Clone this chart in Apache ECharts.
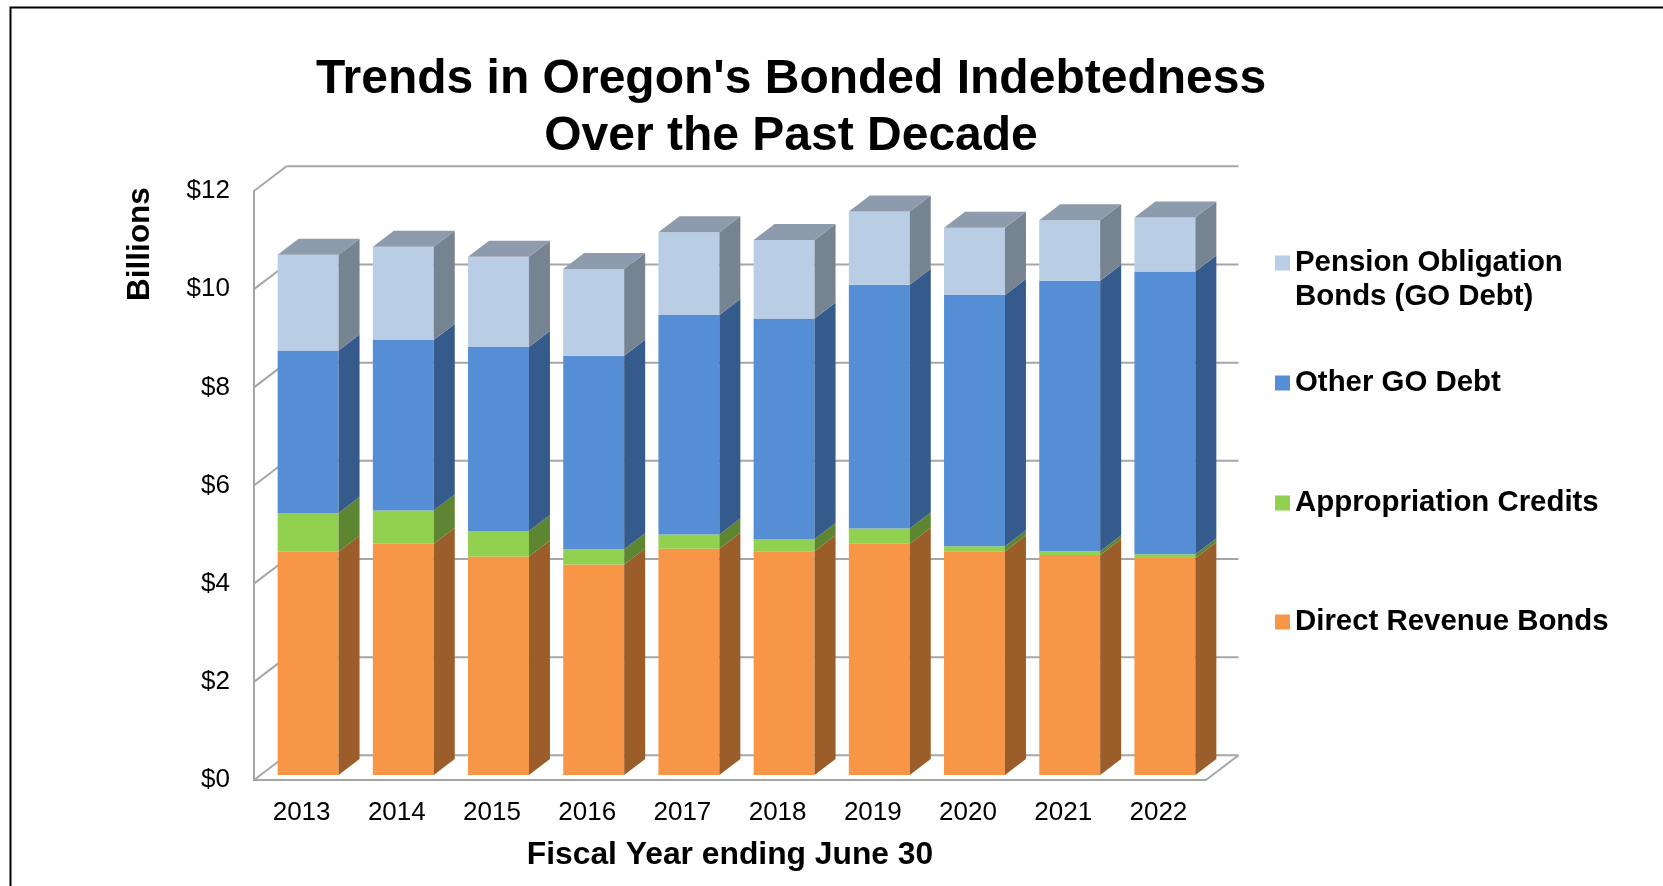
<!DOCTYPE html>
<html>
<head>
<meta charset="utf-8">
<script src="https://cdn.jsdelivr.net/npm/echarts@6/dist/echarts.min.js"></script>
<style>
html,body{margin:0;padding:0;background:#fff;}
#chart{width:1663px;height:886px;}
</style>
</head>
<body>
<div id="chart"></div>
<script>
// ---- Data (billions of dollars) ----
const years = ['2013','2014','2015','2016','2017','2018','2019','2020','2021','2022'];
const directRevenueBonds = [4.55, 4.71, 4.45, 4.29, 4.61, 4.56, 4.71, 4.56, 4.48, 4.42];
const appropriationCredits = [0.79, 0.68, 0.52, 0.31, 0.29, 0.25, 0.31, 0.10, 0.08, 0.08];
const otherGODebt = [3.31, 3.47, 3.75, 3.94, 4.47, 4.49, 4.97, 5.12, 5.51, 5.76];
const pensionObligationBonds = [1.95, 1.90, 1.84, 1.77, 1.69, 1.60, 1.49, 1.37, 1.23, 1.10];
const yTicks = [0, 2, 4, 6, 8, 10, 12];
const seriesNames = ['Direct Revenue Bonds', 'Appropriation Credits', 'Other GO Debt', 'Pension Obligation Bonds (GO Debt)'];

// ---- Styling ----
const FONT = 'Liberation Sans, Arial, Helvetica, sans-serif';
const palette = [
  {front:'#F79646', side:'#9B5E2B', top:'#C77A3A'},
  {front:'#92D050', side:'#5E8632', top:'#7AAE42'},
  {front:'#558ED5', side:'#345B8B', top:'#4470A8'},
  {front:'#B9CDE5', side:'#768492', top:'#8D9BAD'}
];
const GRID_COLOR = '#A6A6A6';
const WALL = [32.5, -24.7];     // depth of the chart box
const BAR_OFF = [6.5, -5];      // front-face offset of bars
const BAR_D = [21, -16];        // depth of each bar

const valueSets = [directRevenueBonds, appropriationCredits, otherGODebt, pensionObligationBonds];

function stackedData(k) {
  return years.map((y, i) => {
    let b = 0;
    for (let j = 0; j < k; j++) b += valueSets[j][i];
    return [i, b, b + valueSets[k][i]];
  });
}

function makeBarRender(k) {
  const c = palette[k];
  const isTop = k === valueSets.length - 1;
  return function (params, api) {
    const idx = api.value(0);
    const pb = api.coord([idx, api.value(1)]);
    const pt = api.coord([idx, api.value(2)]);
    const w = api.size([1, 0])[0] * 0.64;
    const cx = pb[0] + BAR_OFF[0];
    const xl = cx - w / 2, xr = cx + w / 2;
    const yb = pb[1] + BAR_OFF[1], yt = pt[1] + BAR_OFF[1];
    const children = [
      {type:'rect', shape:{x:xl, y:yt, width:w, height:yb - yt}, style:{fill:c.front}},
      {type:'polygon', shape:{points:[[xr, yt], [xr + BAR_D[0], yt + BAR_D[1]], [xr + BAR_D[0], yb + BAR_D[1]], [xr, yb]]}, style:{fill:c.side}}
    ];
    if (isTop) {
      children.push({type:'polygon', shape:{points:[[xl, yt], [xl + BAR_D[0], yt + BAR_D[1]], [xr + BAR_D[0], yt + BAR_D[1]], [xr, yt]]}, style:{fill:c.top}});
    }
    return {type:'group', children};
  };
}

function renderWall(params, api) {
  const cs = params.coordSys;
  const x0 = cs.x, x1 = cs.x + cs.width;
  const st = {stroke: GRID_COLOR, lineWidth: 2};
  const children = [];
  yTicks.forEach(v => {
    const y = api.coord([0, v])[1];
    children.push({type:'line', shape:{x1:x0, y1:y, x2:x0 + WALL[0], y2:y + WALL[1]}, style:st});
    children.push({type:'line', shape:{x1:x0 + WALL[0], y1:y + WALL[1], x2:x1 + WALL[0], y2:y + WALL[1]}, style:st});
  });
  const yb = api.coord([0, 0])[1];
  children.push({type:'line', shape:{x1:x1, y1:yb, x2:x1 + WALL[0], y2:yb + WALL[1]}, style:st});
  return {type:'group', children};
}

const series = [
  {type:'custom', name:'wall', renderItem: renderWall, data:[[0, 0, 0]], encode:{x:0, y:1}, silent:true, z:1}
];
valueSets.forEach((vals, k) => {
  series.push({
    type:'custom',
    name: seriesNames[k],
    renderItem: makeBarRender(k),
    itemStyle:{color: palette[k].front},
    encode:{x:0, y:[1, 2]},
    data: stackedData(k),
    z: 2
  });
});

const legendBase = {
  orient:'vertical', left:1275, padding:0, itemWidth:15, itemHeight:15, icon:'rect', selectedMode:false,
  textStyle:{fontFamily:FONT, fontSize:29.4, fontWeight:'bold', color:'#000', lineHeight:34}
};

const option = {
  animation:false,
  backgroundColor:'#fff',
  title:{
    text:"Trends in Oregon's Bonded Indebtedness\nOver the Past Decade",
    left:791, top:51, padding:0, textAlign:'center',
    textStyle:{fontFamily:FONT, fontSize:48, fontWeight:'bold', color:'#000', lineHeight:57}
  },
  legend:[
    Object.assign({}, legendBase, {data:[seriesNames[3]], top:212, formatter: () => ' \nPension Obligation\nBonds (GO Debt)'}),
    Object.assign({}, legendBase, {data:[seriesNames[2]], top:366}),
    Object.assign({}, legendBase, {data:[seriesNames[1]], top:486}),
    Object.assign({}, legendBase, {data:[seriesNames[0]], top:605})
  ],
  grid:{left:254, right:457, top:191, bottom:106, containLabel:false},
  xAxis:{
    type:'category', data:years,
    axisLine:{show:true, lineStyle:{color:GRID_COLOR, width:2}},
    axisTick:{show:false},
    axisLabel:{fontFamily:FONT, fontSize:26, color:'#000', margin:20},
    name:'Fiscal Year ending June 30', nameLocation:'middle', nameGap:59,
    nameTextStyle:{fontFamily:FONT, fontSize:31.8, fontWeight:'bold', color:'#000'}
  },
  yAxis:{
    type:'value', min:0, max:12, interval:2,
    axisLine:{show:true, lineStyle:{color:GRID_COLOR, width:2}},
    axisTick:{show:false},
    splitLine:{show:false},
    axisLabel:{fontFamily:FONT, fontSize:26, color:'#000', margin:24, formatter: v => '$' + v}
  },
  graphic:[
    {type:'rect', left:8, top:5, shape:{x:0, y:0, width:2000, height:2000}, style:{fill:'none', stroke:'#000', lineWidth:2}, silent:true},
    {type:'text', x:140, y:244, rotation:Math.PI/2,
     style:{text:'Billions', fontFamily:FONT, fontSize:31.5, fontWeight:'bold', fill:'#000', textAlign:'center', textVerticalAlign:'middle', align:'center', verticalAlign:'middle'}}
  ],
  series
};

const chart = echarts.init(document.getElementById('chart'), null, {renderer:'canvas'});
chart.setOption(option);
</script>
</body>
</html>
